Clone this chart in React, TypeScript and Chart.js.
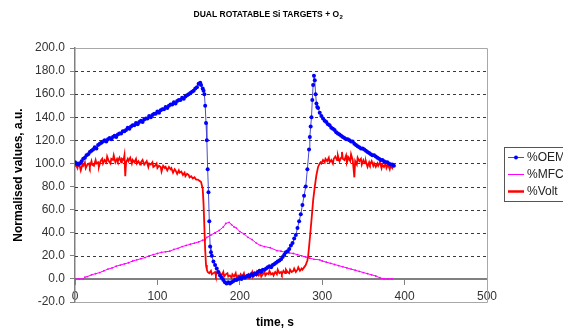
import React, { useEffect, useRef } from "react";
import { Chart, registerables } from "chart.js";

Chart.register(...registerables);

const chartTitle = "DUAL ROTATABLE Si TARGETS + O";
const titleSub = "2";
const xTitle = "time, s";
const yTitle = "Normalised values, a.u.";
const seriesNames = ["%OEM", "%MFC", "%Volt"];
const xMin = 0, xMax = 500, xStep = 100;
const yMin = -20, yMax = 200, yStep = 20;

const oemPoints: [number, number][] = [
  [0,101],[2,100],[4,99],[6,100],[8,102],[10,104],[12,105],[14,107],[16,108],[18,110],[20,111],[22,112],[24,114],[26,113],[28,116],[30,117],[32,118],[34,119],[36,120],[38,119],[40,121],[42,122],[44,121],[46,123],[48,124],[50,123],[52,125],[54,126],[56,126],[58,128],[60,128],[62,129],[64,131],[66,130],[68,132],[70,133],[72,133],[74,135],[76,134],[78,136],[80,137],[82,136],[84,138],[86,139],[88,139],[90,141],[92,140],[94,142],[96,143],[98,143],[100,145],[102,144],[104,146],[106,147],[108,147],[110,149],[112,148],[114,150],[116,151],[118,151],[120,153],[122,152],[124,154],[126,155],[128,155],[130,157],[132,156],[134,158],[136,159],[138,160],[140,161],[142,162],[144,163],[146,165],[148,166],[150,169],[152,170],[153,168],[155,165],[156,163],[157,160],[158,150],[159,135],[160,120],[161,95],[162,75],[163,50],[164,28],[165,23],[166,20],[168,15],[170,12],[172,9],[174,6],[176,3],[178,1],[180,-1],[182,-3],[184,-4],[186,-3],[188,-4],[190,-3],[192,-2],[194,-1],[196,-1],[198,0],[200,1],[202,0],[204,2],[206,1],[208,2],[210,3],[212,2],[214,4],[216,3],[218,5],[220,4],[222,6],[224,7],[226,6],[228,8],[230,8],[232,9],[234,10],[236,11],[238,10],[240,12],[242,13],[244,14],[246,15],[248,16],[250,17],[252,19],[254,21],[256,23],[258,24],[260,26],[262,29],[264,31],[266,35],[268,38],[270,44],[272,50],[274,56],[276,64],[278,72],[280,80],[282,95],[284,112],[285,123],[286,132],[287,140],[288,155],[289,168],[290,176],[291,172],[292,160],[293,152],[294,149],[295,148],[297,144],[299,141],[301,139],[303,137],[305,136],[307,134],[309,133],[311,131],[313,130],[315,129],[317,127],[319,126],[321,125],[323,124],[325,123],[327,122],[329,121],[331,121],[333,120],[335,119],[337,119],[339,117],[341,116],[343,115],[345,114],[347,113],[349,113],[351,112],[353,111],[355,110],[357,109],[359,108],[361,107],[363,107],[365,106],[367,105],[369,104],[371,103],[373,103],[375,102],[377,101],[379,101],[381,100],[383,99],[385,99],[387,98]
];

const mfcPoints: [number, number][] = [
  [0,0],[5,0],[10,0],[12,1.5],[15,2],[20,3.5],[25,4.5],[30,5.5],[35,7],[40,8.5],[45,9.5],[50,11],[55,12],[60,13],[65,14],[70,15.5],[75,16.5],[80,17.5],[85,18.5],[90,20],[95,21],[100,22],[105,23],[110,23.5],[115,24],[120,25.5],[125,26.5],[130,28],[135,29],[140,30],[145,31],[150,32],[155,33.5],[158,34],[160,36],[165,38],[170,40],[175,42],[180,45],[183,48],[187,49],[190,47],[193,45],[196,44],[200,41],[205,39],[210,36],[215,34],[220,31],[225,29],[230,28],[237,27],[245,24.5],[250,24],[255,23],[260,22.5],[265,22],[270,21],[275,20],[280,19],[285,18],[290,17],[297,16.5],[300,15.5],[305,14.5],[310,13.5],[315,12.5],[320,11.5],[325,10.5],[330,9.5],[335,8.5],[340,7.5],[345,6.5],[350,5.5],[355,4.5],[360,3.5],[365,2.5],[370,1],[375,0],[380,0],[385,0]
];

const voltPoints: [number, number][] = [
  [0,98],[1,99],[3,96],[4,100],[6,97],[7,94],[9,99],[10,98],[12,101],[13,96],[15,99],[17,100],[18,97],[20,102],[21,99],[23,98],[25,103],[26,100],[28,101],[29,97],[31,102],[33,104],[34,100],[36,103],[38,101],[39,106],[41,102],[43,100],[44,104],[46,103],[47,107],[49,101],[51,104],[52,102],[54,105],[56,101],[57,104],[59,103],[60,107],[61,89],[62,101],[64,104],[65,102],[67,105],[69,100],[70,103],[72,101],[74,104],[75,100],[77,102],[79,99],[80,101],[82,103],[84,99],[85,100],[87,102],[89,97],[90,100],[92,99],[94,101],[95,97],[97,98],[99,100],[100,96],[102,98],[104,97],[105,93],[107,98],[109,96],[110,97],[112,94],[114,97],[116,95],[117,96],[119,92],[121,95],[122,94],[124,91],[126,94],[127,92],[129,93],[131,90],[133,92],[134,89],[136,91],[138,90],[139,88],[141,89],[143,87],[145,88],[147,86],[149,86],[151,85],[153,84],[154,84],[155,78],[156,65],[157,45],[158,25],[159,12],
  [160,8],[161,6],[163,5],[165,7],[166,4],[168,5],[170,6],[171,3],[173,7],[175,4],[176,5],[178,3],[180,6],[181,2],[183,4],[185,5],[186,2],[188,3],[190,1],[191,4],[193,2],[195,5],[196,1],[198,3],[200,2],[201,4],[203,2],[205,5],[206,2],[208,3],[210,1],[211,4],[213,3],[215,6],[216,2],[218,4],[220,3],[221,6],[223,3],[225,5],[226,2],[228,4],[230,6],[231,3],[233,5],[235,4],[236,7],[238,4],[240,5],[241,3],[243,6],[245,4],[246,8],[248,5],[250,6],[251,4],[253,7],[255,5],[256,8],[258,6],[260,5],[261,8],[263,6],[265,7],[266,9],[268,6],[270,8],[271,10],[273,7],[275,9],[276,8],[278,10],[280,12],[282,16],[283,20],[285,35],[287,51],[289,68],[291,80],[293,90],[295,97],[297,100],
  [298,101],[299,100],[301,103],[303,101],[304,104],[306,102],[308,105],[309,101],[311,103],[313,100],[314,104],[316,106],[318,103],[319,107],[321,102],[323,105],[324,110],[325,104],[327,103],[329,107],[330,101],[332,105],[334,102],[335,108],[337,103],[338,96],[339,88],[340,102],[342,99],[343,105],[345,102],[347,104],[348,99],[350,103],[352,100],[353,102],[355,97],[357,101],[358,99],[360,102],[362,98],[363,100],[365,97],[367,100],[368,98],[370,101],[372,96],[373,99],[375,97],[377,100],[378,96],[380,99],[382,95],[383,98],[385,96],[386,98]
];

const colors = { oem: "#0000ff", oemLine: "#4a4acc", mfc: "#ff00ff", volt: "#ff0000" };

const toXY = (pts: [number, number][]) => pts.map(([x, y]) => ({ x, y }));

const FONT = "'Liberation Sans', Arial, sans-serif";

const framePlugin = {
  id: "frame",
  beforeDatasetsDraw(chart: any) {
    const { ctx, chartArea: a, scales } = chart;
    const ys = scales.y;
    ctx.save();
    ctx.lineWidth = 1;
    ctx.strokeStyle = "#3a3a3a";
    ctx.setLineDash([3, 3]);
    for (let v = yMin + yStep; v < yMax; v += yStep) {
      if (v === 0) continue;
      const py = Math.round(ys.getPixelForValue(v)) + 0.5;
      ctx.beginPath();
      ctx.moveTo(a.left, py);
      ctx.lineTo(a.right, py);
      ctx.stroke();
    }
    ctx.setLineDash([]);
    ctx.strokeStyle = "#a8a8a8";
    const top = Math.round(ys.getPixelForValue(yMax)) + 0.5;
    const bot = Math.round(ys.getPixelForValue(yMin)) + 0.5;
    const right = Math.round(a.right) + 0.5;
    ctx.beginPath();
    ctx.moveTo(a.left, top);
    ctx.lineTo(right, top);
    ctx.lineTo(right, bot);
    ctx.lineTo(a.left, bot);
    ctx.stroke();
    ctx.restore();
  },
  afterDraw(chart: any) {
    const { ctx } = chart;
    ctx.save();
    ctx.fillStyle = "#000";
    ctx.font = `bold 8.5px ${FONT}`;
    ctx.textBaseline = "middle";
    const w1 = ctx.measureText(chartTitle).width;
    ctx.font = `bold 6px ${FONT}`;
    const w2 = ctx.measureText(titleSub).width;
    const tx = 268 - (w1 + w2) / 2;
    ctx.font = `bold 8.5px ${FONT}`;
    ctx.textAlign = "left";
    ctx.fillText(chartTitle, tx, 15);
    ctx.font = `bold 6px ${FONT}`;
    ctx.fillText(titleSub, tx + w1 + 0.5, 17.5);
    ctx.font = `bold 12px ${FONT}`;
    ctx.textAlign = "center";
    ctx.fillText(xTitle, 275, 323);
    ctx.save();
    ctx.translate(19, 175);
    ctx.rotate(-Math.PI / 2);
    ctx.fillText(yTitle, 0, 0);
    ctx.restore();
    ctx.fillStyle = "#ffffff";
    ctx.fillRect(505, 148, 70, 53);
    ctx.strokeStyle = "#555";
    ctx.lineWidth = 1;
    ctx.strokeRect(504.5, 147.5, 80, 54);
    const rows = [157, 174, 191];
    const cols = [colors.oemLine, colors.mfc, colors.volt];
    const widths = [1, 1, 2.5];
    rows.forEach((ry, i) => {
      ctx.strokeStyle = cols[i];
      ctx.lineWidth = widths[i];
      ctx.beginPath();
      ctx.moveTo(508, ry + 0.5);
      ctx.lineTo(524, ry + 0.5);
      ctx.stroke();
      if (i === 0) {
        ctx.fillStyle = colors.oem;
        ctx.beginPath();
        ctx.arc(516, ry + 0.5, 2, 0, Math.PI * 2);
        ctx.fill();
      }
      ctx.fillStyle = "#222";
      ctx.font = `12px ${FONT}`;
      ctx.textAlign = "left";
      ctx.textBaseline = "middle";
      ctx.fillText(seriesNames[i], 527, ry + 1);
    });
    ctx.restore();
  },
};

export default function App() {
  const ref = useRef<HTMLCanvasElement | null>(null);
  useEffect(() => {
    if (!ref.current) return;
    const chart = new Chart(ref.current, {
      type: "scatter",
      data: {
        datasets: [
          {
            label: seriesNames[0],
            data: toXY(oemPoints),
            showLine: true,
            borderColor: colors.oemLine,
            borderWidth: 1,
            pointRadius: 2,
            pointBorderWidth: 0,
            pointBackgroundColor: colors.oem,
            order: 1,
          },
          {
            label: seriesNames[1],
            data: toXY(mfcPoints),
            showLine: true,
            borderColor: colors.mfc,
            borderWidth: 1,
            pointRadius: 0.9,
            pointBorderWidth: 0,
            pointBackgroundColor: colors.mfc,
            order: 3,
          },
          {
            label: seriesNames[2],
            data: toXY(voltPoints),
            showLine: true,
            borderColor: colors.volt,
            borderWidth: 1.8,
            pointRadius: 0,
            order: 2,
          },
        ],
      },
      options: {
        animation: false,
        responsive: false,
        layout: { padding: { left: 0, right: 76, top: 48, bottom: 29 } },
        plugins: { legend: { display: false }, title: { display: false }, tooltip: { enabled: false } },
        scales: {
          x: {
            type: "linear",
            position: { y: 0 } as any,
            min: xMin,
            max: xMax,
            ticks: { stepSize: xStep, color: "#333", font: { family: FONT, size: 12 }, padding: 6 },
            grid: { drawOnChartArea: false, drawTicks: true, tickLength: 5, color: "#808080" },
            border: { color: "#808080", width: 2 },
          },
          y: {
            type: "linear",
            position: "left",
            min: yMin,
            max: yMax,
            afterFit: (s: any) => { s.width = 75; },
            ticks: {
              stepSize: yStep,
              color: "#333",
              font: { family: FONT, size: 12 },
              padding: 5,
              callback: (v: any) => Number(v).toFixed(1),
            },
            grid: { drawOnChartArea: false, drawTicks: true, tickLength: 5, color: "#808080" },
            border: { color: "#808080", width: 1.5 },
          },
        },
      },
      plugins: [framePlugin],
    });
    return () => chart.destroy();
  }, []);
  return (
    <div style={{ position: "absolute", left: 0, top: 0, width: 563, height: 331, background: "#fff", overflow: "hidden" }}>
      <canvas ref={ref} width={563} height={331} style={{ display: "block" }} />
    </div>
  );
}
